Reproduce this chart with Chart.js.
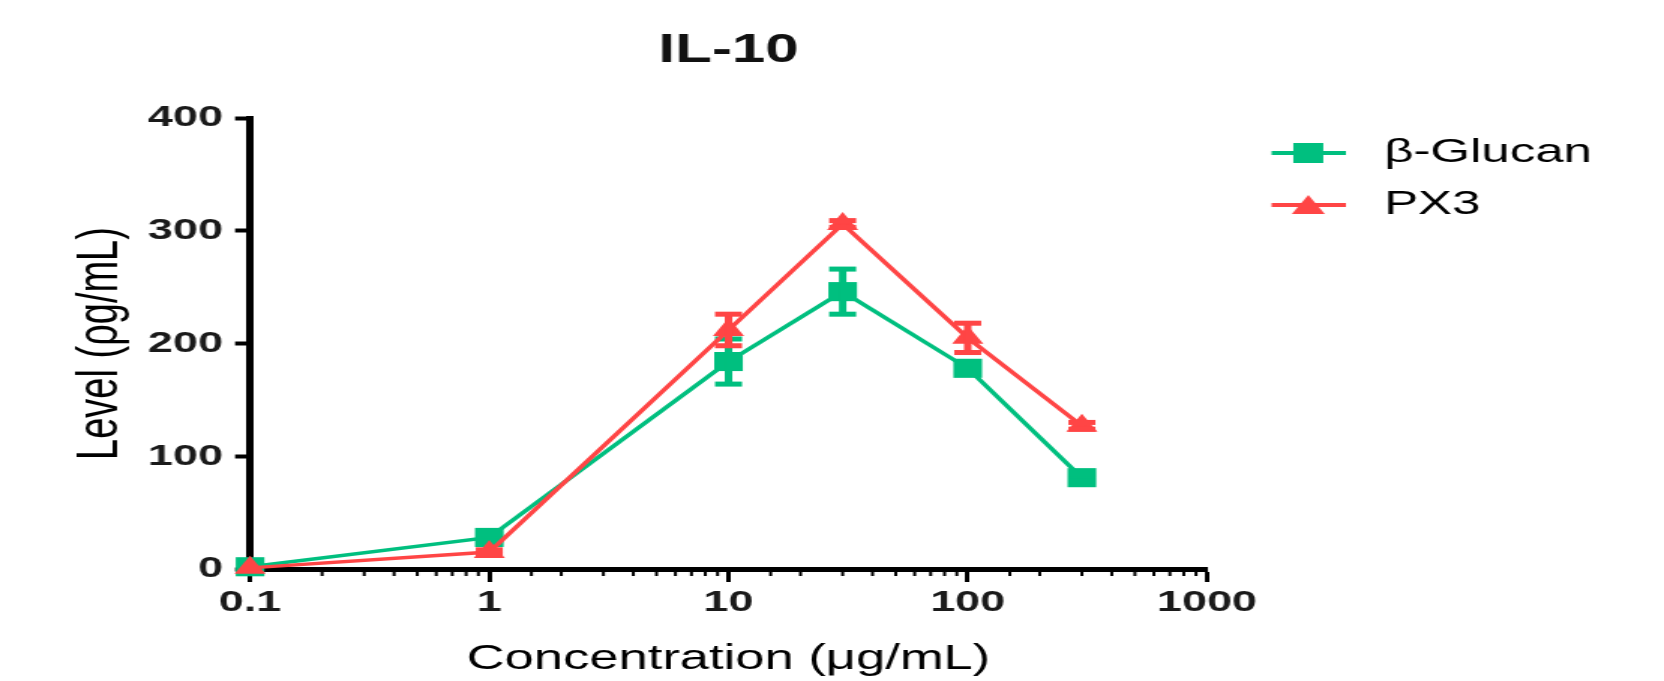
<!DOCTYPE html>
<html><head><meta charset="utf-8">
<script src="https://cdn.jsdelivr.net/npm/chart.js@4.4.1/dist/chart.umd.min.js"></script>
<style>
html,body{margin:0;padding:0;background:#fff;overflow:hidden;width:1664px;height:681px;}
#wrap{position:absolute;left:0;top:0;width:1109px;height:681px;transform:scaleX(1.50045);transform-origin:0 0;}
</style></head><body>
<div id="wrap"><canvas id="c"></canvas></div>
<script>
const chartTitle = 'IL-10';
const concentrations = [0.1, 1, 10, 30, 100, 300];
const glucanValues = [2, 28, 184, 246, 178, 81];
const glucanErrors = [0, 3, 20, 20, 4, 3];
const px3Values = [1, 15, 212, 306, 205, 127];
const px3Errors = [0, 2, 14, 3, 13, 3];
const xTickLabels = ['0.1', '1', '10', '100', '1000'];
const yTickLabels = ['0', '100', '200', '300', '400'];
const seriesNames = ['β-Glucan', 'PX3'];
const seriesColors = ['#00bf7f', '#ff4545'];
const xTitle = 'Concentration (μg/mL)';
const yTitle = 'Level (ρg/mL)';

Chart.defaults.font.family = "'Liberation Sans', Arial, sans-serif";
Chart.defaults.color = '#111';

function labelFor(v) {
  for (const l of xTickLabels) {
    if (Math.abs(Math.log10(v) - Math.log10(parseFloat(l))) < 1e-6) return l;
  }
  return '';
}
function isLabelled(v) { return labelFor(v) !== ''; }

function makeLegendIcon(color, shape) {
  const c = document.createElement('canvas');
  c.width = 66; c.height = 30;
  const g = c.getContext('2d');
  g.strokeStyle = color; g.fillStyle = color; g.lineWidth = 4;
  g.beginPath(); g.moveTo(16.5, 15); g.lineTo(66, 15); g.stroke();
  const cx = 41;
  if (shape === 'rect') {
    g.fillRect(cx - 10, 5, 20, 20);
  } else {
    g.beginPath(); g.moveTo(cx, 5); g.lineTo(cx + 11, 24); g.lineTo(cx - 11, 24); g.closePath(); g.fill();
  }
  return c;
}
const legendIcons = [makeLegendIcon(seriesColors[0], 'rect'), makeLegendIcon(seriesColors[1], 'triangle')];

const errorBars = {
  id: 'errorBars',
  afterDatasetDraw(chart, args) {
    const ds = chart.data.datasets[args.index];
    if (!ds.errors) return;
    const ys = chart.scales.y;
    const ctx = chart.ctx;
    ctx.save();
    ctx.fillStyle = ds.borderColor;
    args.meta.data.forEach((pt, i) => {
      const e = ds.errors[i];
      if (!e) return;
      const v = ds.data[i].y;
      const top = ys.getPixelForValue(v + e);
      const bot = ys.getPixelForValue(v - e);
      const x = pt.x;
      ctx.fillRect(x - 2.5, top, 5, bot - top);
      ctx.fillRect(x - 9, top - 2.5, 18, 5);
      ctx.fillRect(x - 9, bot - 2.5, 18, 5);
    });
    ctx.restore();
  }
};

const minorTicks = {
  id: 'minorTicks',
  afterDraw(chart) {
    const s = chart.scales.x;
    const ctx = chart.ctx;
    ctx.save();
    ctx.fillStyle = '#000';
    s.ticks.forEach(t => {
      if (isLabelled(t.value)) return;
      const px = s.getPixelForValue(t.value);
      ctx.fillRect(px - 1, s.top + 2.5, 2, 4.5);
    });
    ctx.restore();
  }
};

function series(vals) { return concentrations.map((x, i) => ({x: x, y: vals[i]})); }

new Chart(document.getElementById('c'), {
  type: 'line',
  data: {
    datasets: [
      {
        label: seriesNames[0], data: series(glucanValues), errors: glucanErrors,
        borderColor: seriesColors[0], backgroundColor: seriesColors[0],
        pointBackgroundColor: seriesColors[0], pointBorderWidth: 0,
        pointStyle: 'rect', pointRadius: 13.5, pointHoverRadius: 13.5,
        borderWidth: 3.5, tension: 0, fill: false, clip: false, order: 1
      },
      {
        label: seriesNames[1], data: series(px3Values), errors: px3Errors,
        borderColor: seriesColors[1], backgroundColor: seriesColors[1],
        pointBackgroundColor: seriesColors[1], pointBorderWidth: 0,
        pointStyle: 'triangle', pointRadius: 12, pointHoverRadius: 12,
        borderWidth: 3.5, tension: 0, fill: false, clip: false, order: 0
      }
    ]
  },
  options: {
    responsive: true, maintainAspectRatio: false, animation: false, events: [],
    layout: {padding: {left: 0, right: 38, top: 0, bottom: 0}},
    plugins: {
      tooltip: {enabled: false},
      title: {
        display: true, text: chartTitle, fullSize: false, color: '#111',
        font: {size: 40, weight: 'bold'}, padding: {top: 27, bottom: 43}
      },
      legend: {
        display: true, position: 'right', align: 'start', fullSize: false,
        labels: {
          usePointStyle: true, pointStyleWidth: 83, padding: 18, color: '#000',
          font: {size: 34},
          generateLabels: () => seriesNames.map((n, i) => ({
            text: n, datasetIndex: i, pointStyle: legendIcons[i],
            fillStyle: seriesColors[i], strokeStyle: seriesColors[i], lineWidth: 0, hidden: false, fontColor: '#000'
          }))
        }
      }
    },
    scales: {
      x: {
        type: 'logarithmic', position: 'bottom', min: 0.1, max: 1000,
        border: {display: true, width: 5, color: '#000'},
        grid: {
          display: true, drawOnChartArea: false, drawTicks: true, tickLength: 13,
          tickWidth: c => (c.tick && isLabelled(c.tick.value)) ? 3 : 0,
          tickColor: '#000'
        },
        ticks: {
          autoSkip: false, maxRotation: 0, minRotation: 0, padding: 3, color: '#1a1a1a',
          font: {size: 30, weight: 'bold'},
          callback: v => labelFor(v)
        },
        title: {display: true, text: xTitle, color: '#000', font: {size: 35}, padding: {top: 14, bottom: 1}}
      },
      y: {
        type: 'linear', position: 'left', min: 0, max: 400,
        afterBuildTicks: s => { s.ticks = yTickLabels.map(v => ({value: parseFloat(v)})); },
        border: {display: true, width: 5, color: '#000'},
        grid: {display: true, drawOnChartArea: false, drawTicks: true, tickLength: 10, tickWidth: 4, tickColor: '#000'},
        ticks: {padding: 8, color: '#1a1a1a', font: {size: 30, weight: 'bold'}, callback: v => String(v)},
        title: {display: true, text: yTitle, color: '#000', font: {size: 38}, padding: {top: 45, bottom: 0}}
      }
    }
  },
  plugins: [errorBars, minorTicks]
});
</script>
</body></html>
